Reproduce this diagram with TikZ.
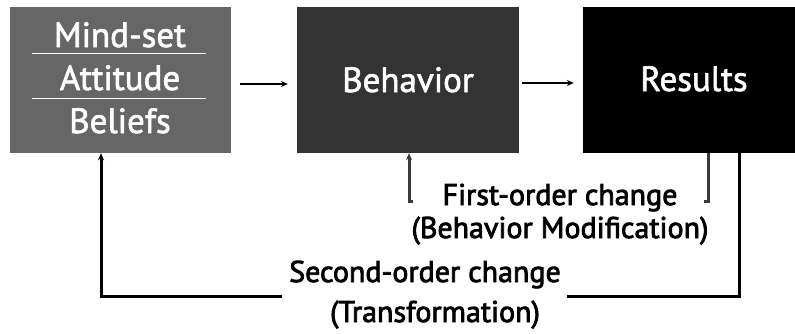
\documentclass[tikz,border=0pt]{standalone}
\usepackage{fontspec}
\setmainfont{PT Sans}
\newfontfamily\semifont[FakeBold=2.6]{PT Sans}
\newfontfamily\whitefont[FakeBold=1.8]{PT Sans}
\usetikzlibrary{arrows.meta}
\definecolor{boxa}{HTML}{666666}
\definecolor{boxb}{HTML}{333333}
\definecolor{brk}{HTML}{3A3A3A}
\begin{document}
\begin{tikzpicture}[x=1pt,y=-1pt,
    blk/.style={draw=none,minimum height=146pt,inner sep=0pt},
    wtxt/.style={text=white,font=\whitefont\fontsize{35}{35}\selectfont,anchor=base},
    ktxt/.style={font=\semifont\fontsize{30}{30}\selectfont,anchor=base},
    fwd/.style={->,line width=2pt},
    >={Stealth[length=7pt,width=6pt]}]
  \useasboundingbox (0,0) rectangle (795,333);
  % the three stages
  \node[blk,fill=boxa,minimum width=221pt] (mind) at (120.5,80) {};
  \node[blk,fill=boxb,minimum width=222pt] (beh) at (408,80) {};
  \node[blk,fill=black,minimum width=212pt] (res) at (689,80) {};
  \node[wtxt] (ms) at (120,47) {Mind-set};
  \node[wtxt] (att) at (120,90) {Attitude};
  \node[wtxt] (bel) at (120,133) {Beliefs};
  \draw[white,line width=1pt] (32,53) -- (206,53);
  \draw[white,line width=1pt] (32,98) -- (206,98);
  \node[wtxt] (behtxt) at (408,92) {Behavior};
  \node[wtxt] (restxt) at (694,91) {Results};
  \draw[fwd,shorten <=9pt,shorten >=9pt] ([yshift=-4pt]mind.east) -- ([yshift=-4pt]beh.west);
  \draw[fwd,shorten <=3pt,shorten >=9pt] ([yshift=-3pt]beh.east) -- ([yshift=-3pt]res.west);
  % first-order loop
  \node[ktxt] (fo) at (560,205) {First-order change};
  \node[ktxt] (fot) at (560,238) {(Behavior Modification)};
  \coordinate (fol) at (413,201);
  \coordinate (for) at (704,201);
  \draw[brk,line width=3pt] ([xshift=19pt]res.south) |- (for);
  \draw[brk,line width=3pt,->] (fol) -| ([xshift=1pt]beh.south);
  % second-order loop
  \node[ktxt] (so) at (425,282) {Second-order change};
  \node[ktxt] (sot) at (435,322) {(Transformation)};
  \coordinate (sol) at (282,296);
  \coordinate (sor) at (567,296);
  \draw[line width=3pt] ([xshift=50pt]res.south) |- (sor);
  \draw[line width=3pt,->] (sol) -| ([xshift=-19.5pt]mind.south);
\end{tikzpicture}
\end{document}
